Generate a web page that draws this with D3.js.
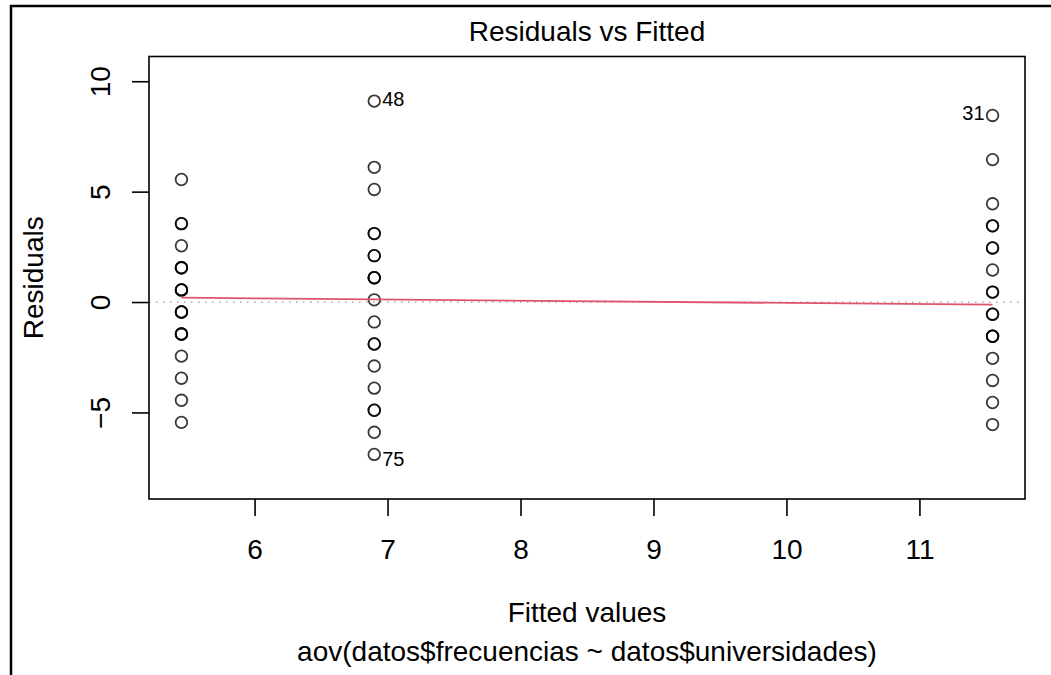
<!DOCTYPE html>
<html>
<head>
<meta charset="utf-8">
<script src="https://cdn.jsdelivr.net/npm/d3@7"></script>
<style>
  html, body { margin: 0; padding: 0; background: #fff; }
  svg { display: block; }
  text { font-family: "Liberation Sans", Arial, Helvetica, sans-serif; fill: #000; }
</style>
</head>
<body>
<svg id="chart" width="1051" height="675"></svg>
<script>
// Fitted values of the three groups (one per university)
const fittedValues = [5.45, 6.9, 11.55];

// Residuals of each group (repeated values are overplotted observations)
const residualsGroup1 = [5.55, 3.55, 3.55, 2.55, 1.55, 1.55, 1.55, 0.55, 0.55, 0.55,
  -0.45, -0.45, -0.45, -1.45, -1.45, -1.45, -2.45, -3.45, -4.45, -5.45];
const residualsGroup2 = [9.1, 6.1, 5.1, 3.1, 3.1, 2.1, 2.1, 1.1, 1.1, 1.1,
  0.1, -0.9, -1.9, -1.9, -2.9, -3.9, -4.9, -4.9, -5.9, -6.9];
const residualsGroup3 = [8.45, 6.45, 4.45, 3.45, 3.45, 2.45, 2.45, 1.45, 0.45, 0.45,
  -0.55, -0.55, -1.55, -1.55, -1.55, -2.55, -3.55, -4.55, -5.55];

// Lowess smooth of the residuals, evaluated at each fitted value
const smoothValues = [0.2, 0.12, -0.12];

// Flagged observations: observation number, group index, residual
const flaggedIds = ["48", "75", "31"];
const flaggedGroup = [1, 1, 2];
const flaggedResidual = [9.1, -6.9, 8.45];

// Axis ticks
const xTicks = [6, 7, 8, 9, 10, 11];
const yTicks = [-5, 0, 5, 10];

const titleText = "Residuals vs Fitted";
const xLabel = "Fitted values";
const yLabel = "Residuals";
const subCaption = "aov(datos$frecuencias ~ datos$universidades)";

const svg = d3.select("#chart");
const box = { left: 149, right: 1025, top: 56.5, bottom: 499 };

const x = d3.scaleLinear().domain([5.206, 11.794]).range([box.left, box.right]);
const y = d3.scaleLinear().domain([-8.92, 11.12]).range([box.bottom, box.top]);

// Outer frame (top and left rules)
svg.append("line").attr("x1", 10).attr("x2", 1051).attr("y1", 6).attr("y2", 6)
  .attr("stroke", "#000").attr("stroke-width", 2.5);
svg.append("line").attr("x1", 11).attr("x2", 11).attr("y1", 5).attr("y2", 675)
  .attr("stroke", "#000").attr("stroke-width", 2.5);

const fontSize = 28;

// Zero reference line (dotted grey)
svg.append("line")
  .attr("x1", box.left).attr("x2", box.right)
  .attr("y1", y(0)).attr("y2", y(0))
  .attr("stroke", "#9a9a9a").attr("stroke-width", 1.3)
  .attr("stroke-dasharray", "1.5,5.5");

// Points
const groups = [residualsGroup1, residualsGroup2, residualsGroup3];
const points = [];
groups.forEach((res, g) => res.forEach(r => points.push({ f: fittedValues[g], r })));

svg.append("g").selectAll("circle").data(points).join("circle")
  .attr("cx", d => x(d.f)).attr("cy", d => y(d.r)).attr("r", 5.8)
  .attr("fill", "none").attr("stroke", "#000")
  .attr("stroke-opacity", 0.78).attr("stroke-width", 1.8);

// Lowess smooth (red)
const line = d3.line().x((d, i) => x(fittedValues[i])).y(d => y(d));
svg.append("path").datum(smoothValues).attr("d", line)
  .attr("fill", "none").attr("stroke", "#DF536B").attr("stroke-width", 1.8);

// Labels of flagged observations
flaggedIds.forEach((id, i) => {
  const px = x(fittedValues[flaggedGroup[i]]);
  const py = y(flaggedResidual[i]);
  const onRight = fittedValues[flaggedGroup[i]] < d3.mean(x.domain());
  svg.append("text")
    .attr("x", onRight ? px + 8 : px - 8)
    .attr("y", py + (flaggedResidual[i] < 0 ? 12 : 5))
    .attr("text-anchor", onRight ? "start" : "end")
    .attr("font-size", 20)
    .attr("fill", "#222")
    .text(id);
});

// Plot box
svg.append("rect")
  .attr("x", box.left).attr("y", box.top)
  .attr("width", box.right - box.left).attr("height", box.bottom - box.top)
  .attr("fill", "none").attr("stroke", "#000").attr("stroke-width", 1.6);

// X axis
const xAxis = svg.append("g").attr("transform", `translate(0,${box.bottom})`)
  .call(d3.axisBottom(x).tickValues(xTicks).tickSize(17).tickPadding(23).tickFormat(d3.format("d")));
xAxis.select(".domain").remove();
xAxis.selectAll(".tick line").attr("stroke", "#000").attr("stroke-width", 1.6);
xAxis.selectAll(".tick text").attr("font-size", fontSize).attr("font-family", null);

// Y axis with rotated labels
const yAxis = svg.append("g").attr("transform", `translate(${box.left},0)`)
  .call(d3.axisLeft(y).tickValues(yTicks).tickSize(17));
yAxis.select(".domain").remove();
yAxis.selectAll(".tick line").attr("stroke", "#000").attr("stroke-width", 1.6);
yAxis.selectAll(".tick text")
  .attr("x", null).attr("dy", null)
  .attr("transform", "translate(-39,0) rotate(-90)")
  .attr("text-anchor", "middle")
  .attr("font-size", fontSize).attr("font-family", null);

// Titles
const cx = (box.left + box.right) / 2;
svg.append("text").attr("x", cx).attr("y", 41).attr("text-anchor", "middle")
  .attr("font-size", fontSize).text(titleText);
svg.append("text").attr("x", cx).attr("y", 622).attr("text-anchor", "middle")
  .attr("font-size", fontSize).text(xLabel);
svg.append("text").attr("x", cx).attr("y", 661).attr("text-anchor", "middle")
  .attr("font-size", fontSize).text(subCaption);
svg.append("text")
  .attr("transform", `translate(43,${(box.top + box.bottom) / 2}) rotate(-90)`)
  .attr("text-anchor", "middle").attr("font-size", fontSize).text(yLabel);
</script>
</body>
</html>
